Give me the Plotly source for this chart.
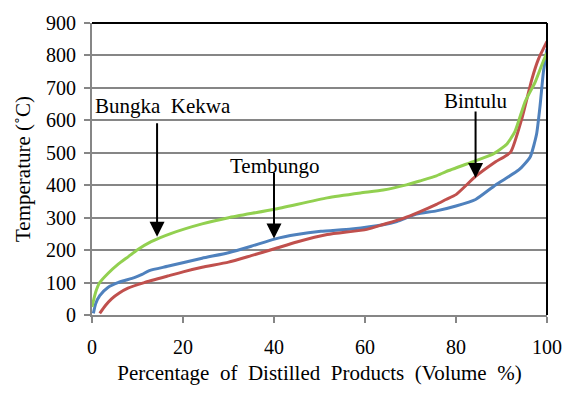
import plotly.graph_objects as go

# Distillation curves: temperature vs. cumulative volume distilled
bungka_x = [0, 0.8, 1.7, 3.5, 5.7, 8, 10, 13, 17.3, 24.2, 30, 40.1, 51.7, 59, 64,
            69.1, 72, 75.7, 77.8, 83.6, 88, 91.2, 93, 95.2, 97.4, 99.2, 100]
bungka_y = [25, 70, 100, 128, 156, 180, 201, 226, 251, 281, 300, 326, 361, 376, 385,
            401, 413, 429, 442, 472, 495, 527, 567, 658, 718, 783, 808]

tembungo_x = [0.3, 0.8, 1.7, 3.5, 5.7, 9.3, 11, 12.6, 16.6, 24.2, 30, 35, 40.1, 45,
              50.3, 57, 64, 67, 71.3, 75.7, 80, 84.3, 88.7, 93.8, 96.3, 97.7, 98.5,
              99.2, 100]
tembungo_y = [5, 35, 60, 85, 100, 115, 125, 137, 150, 175, 192, 212, 234, 248,
              258, 265, 278, 288, 311, 321, 336, 356, 401, 447, 487, 557, 648,
              748, 820]

bintulu_x = [1.7, 3, 4.3, 6, 7.9, 11.5, 16.6, 20, 24.2, 30, 35, 40.1, 45, 51.7,
             60.4, 64, 68.4, 72, 75.7, 77.8, 80, 84.3, 88.7, 92, 94.5, 96.7, 98.1, 100]
bintulu_y = [5, 30, 50, 68, 83, 100, 120, 133, 147, 163, 183, 204, 225, 248,
             264, 279, 298, 318, 341, 356, 371, 427, 472, 502, 607, 728, 788, 843]

x_ticks = [0, 20, 40, 60, 80, 100]
y_ticks = [0, 100, 200, 300, 400, 500, 600, 700, 800, 900]

# Label text, arrow tip (x, y) and arrow tail height, all in data units
labels = ["Bungka  Kekwa", "Tembungo", "Bintulu"]
label_pos = [(15.7, 644), (40.2, 460), (84.3, 660)]
arrow_tip = [(14.3, 241), (40.0, 236), (84.3, 422)]
arrow_tail_y = [596, 443, 632]

FONT = "Times New Roman"

fig = go.Figure()
fig.add_trace(go.Scatter(x=tembungo_x, y=tembungo_y, mode="lines",
                         line=dict(color="#4F81BD", width=3, shape="spline", smoothing=0.5),
                         name="Tembungo"))
fig.add_trace(go.Scatter(x=bintulu_x, y=bintulu_y, mode="lines",
                         line=dict(color="#C0504D", width=3, shape="spline", smoothing=0.5),
                         name="Bintulu"))
fig.add_trace(go.Scatter(x=bungka_x, y=bungka_y, mode="lines",
                         line=dict(color="#92D050", width=3, shape="spline", smoothing=0.5),
                         name="Bungka Kekwa"))

for (tx, ty), tail_y in zip(arrow_tip, arrow_tail_y):
    fig.add_annotation(x=tx, y=ty, ax=tx, ay=tail_y, axref="x", ayref="y",
                       xref="x", yref="y", text="", showarrow=True,
                       arrowhead=2, arrowsize=1.5, arrowwidth=2, arrowcolor="black")

for text, (lx, ly) in zip(labels, label_pos):
    fig.add_annotation(x=lx, y=ly, xref="x", yref="y", text=text, showarrow=False,
                       font=dict(family=FONT, size=21, color="black"))

# Black frame on top and right
fig.add_shape(type="line", xref="paper", yref="paper", x0=0, x1=1, y0=1, y1=1,
              line=dict(color="black", width=2))
fig.add_shape(type="line", xref="paper", yref="paper", x0=1, x1=1, y0=0, y1=1,
              line=dict(color="black", width=2))

fig.update_layout(
    width=574, height=393,
    margin=dict(l=92, r=22, t=16, b=78),
    paper_bgcolor="white", plot_bgcolor="white",
    showlegend=False,
    xaxis=dict(range=[0, 100], tickvals=x_ticks, showgrid=False,
               showline=True, linecolor="#868686", linewidth=2,
               ticks="outside", ticklen=6, tickcolor="#868686", tickwidth=2,
               ticklabelstandoff=7,
               zeroline=False, tickfont=dict(family=FONT, size=20, color="black"),
               title=dict(text="Percentage  of  Distilled  Products  (Volume  %)",
                          font=dict(family=FONT, size=21, color="black"), standoff=8)),
    yaxis=dict(range=[0, 900], tickvals=y_ticks, showgrid=True,
               gridcolor="#868686", gridwidth=2,
               showline=True, linecolor="#868686", linewidth=2,
               ticks="outside", ticklen=6, tickcolor="#868686", tickwidth=2,
               ticklabelstandoff=4,
               zeroline=False, tickfont=dict(family=FONT, size=20, color="black"),
               title=dict(text="Temperature (˚C)",
                          font=dict(family=FONT, size=21, color="black"), standoff=10)),
)

fig.write_html("out.html")
